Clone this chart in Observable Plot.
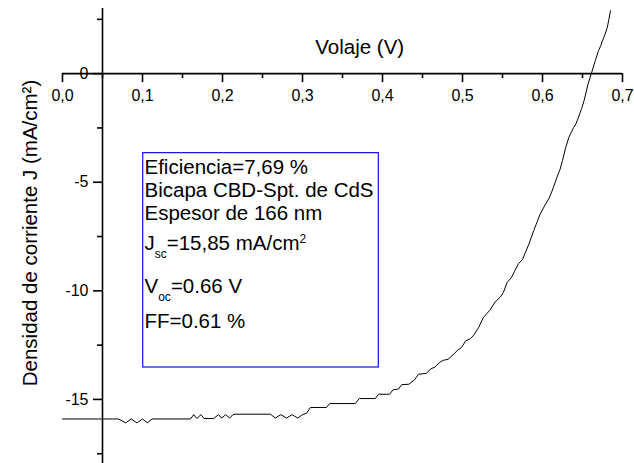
<!DOCTYPE html>
<html>
<head>
<meta charset="utf-8">
<script src="https://cdn.jsdelivr.net/npm/d3@7"></script>
<script src="https://cdn.jsdelivr.net/npm/@observablehq/plot@0.6"></script>
<style>
  html, body { margin: 0; padding: 0; background: #fff; }
  svg { display: block; }
</style>
</head>
<body>
<div id="chart"></div>
<script>
// ---- data ----
const voltage = [
  0.000, 0.070, 0.079, 0.086, 0.093, 0.100, 0.106, 0.112, 0.160, 0.164,
  0.168, 0.173, 0.177, 0.189, 0.195, 0.199, 0.204, 0.209, 0.213, 0.216,
  0.260, 0.266, 0.273, 0.280, 0.287, 0.294, 0.300, 0.305, 0.310, 0.330,
  0.334, 0.366, 0.371, 0.391, 0.395, 0.409, 0.413, 0.420, 0.424, 0.433,
  0.440, 0.445, 0.455, 0.460, 0.466, 0.471, 0.476, 0.482, 0.488, 0.494,
  0.499, 0.504, 0.510, 0.514, 0.520, 0.526, 0.534, 0.541, 0.547, 0.551,
  0.556, 0.561, 0.565, 0.570, 0.575, 0.579, 0.583, 0.589, 0.593, 0.597,
  0.604, 0.608, 0.612, 0.618, 0.622, 0.625, 0.627, 0.629, 0.633, 0.636,
  0.639, 0.642, 0.645, 0.649, 0.652, 0.657, 0.661, 0.666, 0.670, 0.673,
  0.675, 0.678, 0.681, 0.683, 0.685
];
const current = [
  -15.90, -15.90, -16.08, -15.90, -16.08, -15.90, -16.08, -15.90, -15.90, -15.70,
  -15.88, -15.70, -15.88, -15.88, -15.70, -15.86, -15.70, -15.86, -15.70, -15.68,
  -15.68, -15.86, -15.70, -15.86, -15.70, -15.86, -15.70, -15.64, -15.37, -15.37,
  -15.19, -15.19, -14.96, -14.96, -14.76, -14.76, -14.56, -14.52, -14.32, -14.30,
  -14.10, -13.84, -13.80, -13.60, -13.50, -13.30, -13.20, -13.15, -12.95, -12.73,
  -12.60, -12.30, -12.20, -12.04, -11.70, -11.23, -10.90, -10.50, -10.30, -10.08,
  -9.60, -9.40, -9.10, -8.75, -8.55, -8.20, -7.85, -7.23, -6.85, -6.47,
  -6.00, -5.75, -5.40, -4.78, -4.40, -4.00, -3.70, -3.40, -2.93, -2.70,
  -2.47, -2.30, -2.00, -1.60, -1.24, -0.47, 0.00, 0.60, 1.06, 1.30,
  1.52, 1.80, 2.13, 2.50, 2.90
];
const xTicksMajor = [0, 0.1, 0.2, 0.3, 0.4, 0.5, 0.6, 0.7];
const xTicksMinor = [0.05, 0.15, 0.25, 0.35, 0.45, 0.55, 0.65];
const yTicksMajor = [0, -5, -10, -15];
const yTicksMinor = [2.5, -2.5, -7.5, -12.5, -17.5];
const xTitle = "Volaje (V)";
const yTitle = "Densidad de corriente J (mA/cm²)";
const infoLines = [
  "Eficiencia=7,69 %",
  "Bicapa CBD-Spt. de CdS",
  "Espesor de 166 nm",
  "J_{sc}=15,85 mA/cm^{2}",
  "V_{oc}=0.66 V",
  "FF=0.61 %"
];

// ---- build ----
const jv = voltage.map((v, i) => ({ v, j: current[i] }));
const fmtX = d => d.toFixed(1).replace(".", ",");
const axisAt = 0.05;            // y axis crosses x here
const infoBaselines = [-4.62, -5.68, -6.74, -8.10, -10.12, -11.69];

const plot = Plot.plot({
  width: 634,
  height: 463,
  marginLeft: 62,
  marginRight: 12,
  marginTop: 8,
  marginBottom: 0,
  x: { domain: [0, 0.7], axis: null },
  y: { domain: [-17.95, 3], axis: null },
  style: { fontFamily: "'Liberation Sans', Arial, sans-serif", background: "#fff", overflow: "visible" },
  marks: [
    // info box
    Plot.rect([0], { x1: 0.1009, x2: 0.3954, y1: -3.66, y2: -13.53, fill: "none", stroke: "#1010e0", strokeWidth: 1.2 }),
    // x axis (at J = 0)
    Plot.ruleY([0], { x1: 0, x2: 0.7, stroke: "#000", strokeWidth: 1.6 }),
    Plot.ruleX(xTicksMajor, { x: d => d, y1: 0, y2: 0, insetBottom: -9, stroke: "#000", strokeWidth: 1.6 }),
    Plot.ruleX(xTicksMinor, { x: d => d, y1: 0, y2: 0, insetBottom: -5, stroke: "#000", strokeWidth: 1.6 }),
    Plot.text(xTicksMajor, { x: d => d, y: 0, text: fmtX, dy: 16, lineAnchor: "top", fontSize: 16, fill: "#000" }),
    Plot.text([xTitle], { x: 0.3715, y: 0, text: d => d, dy: -20, lineAnchor: "bottom", fontSize: 20.5, fill: "#000" }),
    // y axis
    Plot.ruleX([axisAt], { x: d => d, y1: -17.95, y2: 3, stroke: "#000", strokeWidth: 1.6 }),
    Plot.ruleY(yTicksMajor, { y: d => d, x1: axisAt, x2: axisAt, insetLeft: -9, stroke: "#000", strokeWidth: 1.6 }),
    Plot.ruleY(yTicksMinor, { y: d => d, x1: axisAt, x2: axisAt, insetLeft: -5, stroke: "#000", strokeWidth: 1.6 }),
    Plot.text(yTicksMajor, { x: axisAt, y: d => d, text: d => String(d), textAnchor: "end", dx: -14, fontSize: 16, fill: "#000" }),
    Plot.text([yTitle], { frameAnchor: "left", text: d => d, rotate: -90, textAnchor: "middle", lineAnchor: "middle", dx: -32, dy: -3, fontSize: 20.5, fill: "#000" }),
    // J-V curve
    Plot.line(jv, { x: "v", y: "j", stroke: "#000", strokeWidth: 1 }),
    // info text
    Plot.text(infoLines, { x: 0.1025, y: (d, i) => infoBaselines[i], text: d => d, textAnchor: "start", lineAnchor: "bottom", fontSize: 20.5, fill: "#000" })
  ]
});

document.getElementById("chart").append(plot);

// sub/superscript markup: _{..} and ^{..}
const NS = "http://www.w3.org/2000/svg";
function richText(el) {
  const s = el.textContent;
  if (!/[_^]\{/.test(s)) return;
  el.textContent = "";
  const re = /([_^])\{([^}]*)\}/g;
  let last = 0, cur = 0, m;
  const add = (str, target, size) => {
    const t = document.createElementNS(NS, "tspan");
    t.textContent = str;
    if (target !== cur) t.setAttribute("dy", target - cur);
    if (size) t.setAttribute("font-size", size);
    cur = target;
    el.appendChild(t);
  };
  while ((m = re.exec(s))) {
    if (m.index > last) add(s.slice(last, m.index), 0);
    add(m[2], m[1] === "_" ? 8 : -7, 12);
    last = re.lastIndex;
  }
  if (last < s.length) add(s.slice(last), 0);
}
d3.select(plot).selectAll("text").each(function () { richText(this); });
</script>
</body>
</html>
